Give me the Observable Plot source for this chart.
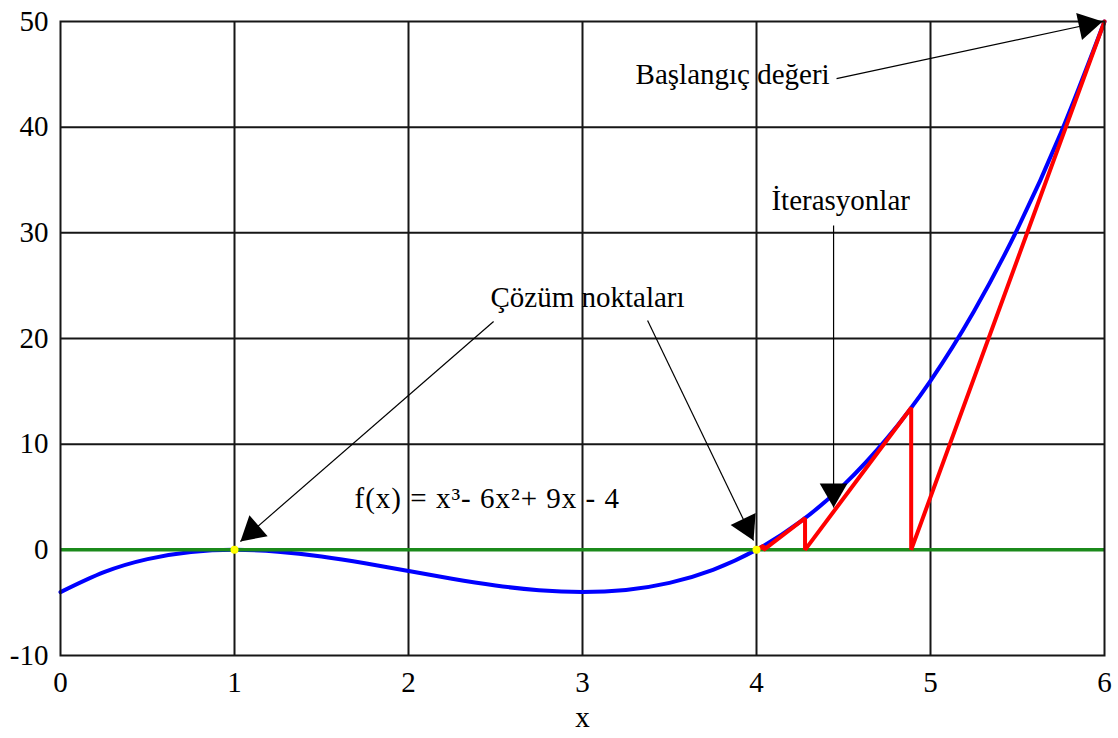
<!DOCTYPE html>
<html>
<head>
<meta charset="utf-8">
<script src="https://cdn.jsdelivr.net/npm/d3@7"></script>
<script src="https://cdn.jsdelivr.net/npm/@observablehq/plot@0.6"></script>
<style>
  body { margin: 0; background: #fff; }
</style>
</head>
<body>
<div id="chart"></div>
<script>
// f(x) = x^3 - 6x^2 + 9x - 4 sampled along the x axis
const curveX = [0, 0.25, 0.5, 0.75, 1, 1.25, 1.5, 1.75, 2, 2.25, 2.5, 2.75, 3,
                3.25, 3.5, 3.75, 4, 4.25, 4.5, 4.75, 5, 5.25, 5.5, 5.75, 6];
const curveY = [-4, -2.109, -0.875, -0.203, 0, -0.172, -0.625, -1.266, -2, -2.734, -3.375, -3.828, -4,
                -3.797, -3.125, -1.891, 0, 2.641, 6.125, 10.547, 16, 22.578, 30.375, 39.484, 50];

// Newton iteration path starting from x0 = 6
const iterX = [6, 4.889, 4.889, 4.279, 4.279, 4.041, 4.041, 4.001];
const iterY = [50, 0, 13.44, 0, 3.0, 0, 0.38, 0];

// Roots of f
const roots = [1, 4];

const xTicks = [0, 1, 2, 3, 4, 5, 6];
const yTicks = [-10, 0, 10, 20, 30, 40, 50];

// Annotation texts
const labelText = ["Başlangıç değeri", "İterasyonlar", "Çözüm noktaları"];
const labelX = [3.305, 4.086, 2.471];
const labelY = [44.99, 33.08, 23.9];
const formulaText = "f(x) = x³- 6x²+ 9x - 4";
const formulaX = 1.690;
const formulaY = 4.88;

// Leader lines (from label to target)
const arrowX1 = [4.460, 4.443, 2.489, 3.374];
const arrowY1 = [44.60, 30.69, 21.61, 21.70];
const arrowX2 = [5.989, 4.443, 1.034, 3.983];
const arrowY2 = [50.0, 4.0, 0.79, 0.88];

const W = 1118, H = 738;
const mL = 60, mR = 14, mT = 21, mB = 83;
const kx = (W - mL - mR) / 6;   // px per x unit
const ky = (H - mT - mB) / 60;  // px per y unit

const curve = curveX.map((x, i) => ({x, y: curveY[i]}));
const iter = iterX.map((x, i) => ({x, y: iterY[i]}));
const labels = labelText.map((text, i) => ({text, x: labelX[i], y: labelY[i]}));
const arrows = arrowX1.map((x1, i) => ({x1, y1: arrowY1[i], x2: arrowX2[i], y2: arrowY2[i]}));

// Filled triangular heads, tip placed on the arrow end
const headBack = 16;
const heads = arrows.map(a => {
  const sx = (a.x2 - a.x1) * kx, sy = -(a.y2 - a.y1) * ky;
  const len = Math.hypot(sx, sy);
  return {
    x: a.x2 - (sx / len) * headBack / kx,
    y: a.y2 + (sy / len) * headBack / ky,
    rotate: Math.atan2(sx, -sy) * 180 / Math.PI
  };
});

const serif = "'Liberation Serif', 'Times New Roman', serif";
const gridColor = "#161616";
const fmt = d => `${d}`;

const chart = Plot.plot({
  width: W,
  height: H,
  marginLeft: mL,
  marginRight: mR,
  marginTop: mT,
  marginBottom: mB,
  x: {domain: [0, 6]},
  y: {domain: [-10, 50]},
  style: {fontFamily: serif, fontSize: "29px", color: "#000", background: "#fff", overflow: "visible"},
  marks: [
    Plot.gridX(xTicks.slice(1, -1), {stroke: gridColor, strokeOpacity: 1, strokeWidth: 2}),
    Plot.gridY(yTicks.slice(1, -1), {stroke: gridColor, strokeOpacity: 1, strokeWidth: 2}),
    Plot.axisX(xTicks, {tickSize: 0, tickPadding: 16, fontSize: 29, label: null, tickFormat: fmt}),
    Plot.axisY(yTicks, {tickSize: 0, tickPadding: 12, fontSize: 29, label: null, tickFormat: fmt}),
    Plot.line(curve, {x: "x", y: "y", stroke: "#0000ff", strokeWidth: 4, curve: "natural"}),
    Plot.ruleY([0], {stroke: "#1b8a1b", strokeWidth: 3.5}),
    Plot.line(iter, {x: "x", y: "y", stroke: "#ff0000", strokeWidth: 4, strokeLinejoin: "miter"}),
    Plot.frame({stroke: gridColor, strokeWidth: 2}),
    Plot.dot(roots, {x: d => d, y: () => 0, r: 4, fill: "#ffff00", stroke: "none"}),
    Plot.link(arrows, {x1: "x1", y1: "y1", x2: "x2", y2: "y2", stroke: "#000", strokeWidth: 1.2}),
    Plot.dot(heads, {x: "x", y: "y", rotate: "rotate", symbol: "triangle", r: 10.3, fill: "#000", stroke: "none"}),
    Plot.text(labels, {x: "x", y: "y", text: "text", textAnchor: "start", fontSize: 29, fill: "#000"}),
    Plot.text([formulaText], {x: () => formulaX, y: () => formulaY, text: d => d, textAnchor: "start",
      fontSize: 29, fill: "#000", className: "formula"}),
    Plot.text(["x"], {frameAnchor: "bottom", dy: 71, fontSize: 29, fill: "#000"})
  ]
});

// slightly looser spacing for the formula line
chart.querySelectorAll(".formula text").forEach(t => t.setAttribute("letter-spacing", "1"));

document.getElementById("chart").append(chart);
</script>
</body>
</html>
